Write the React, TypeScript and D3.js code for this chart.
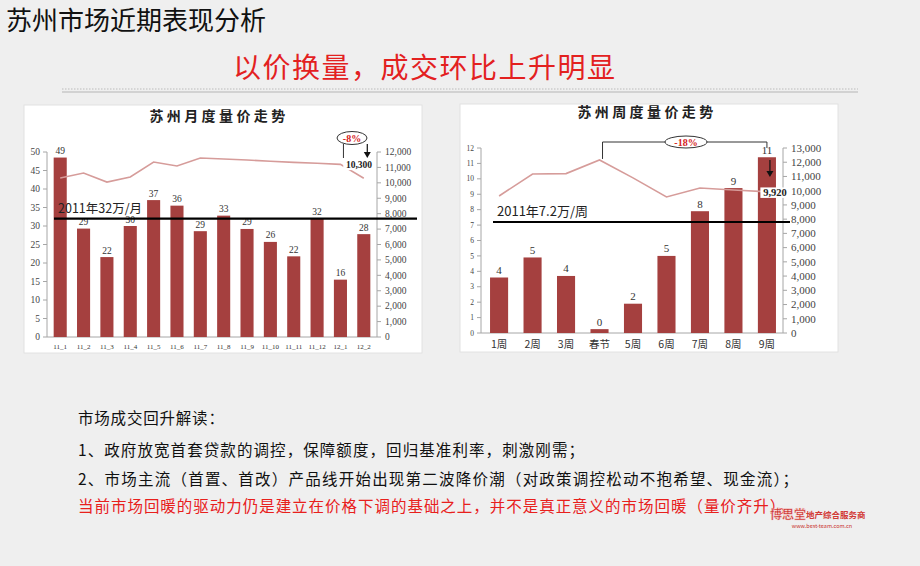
import * as d3 from "d3";

// ── data ─────────────────────────────────────────────────────────────
const monthCats = ["11_1", "11_2", "11_3", "11_4", "11_5", "11_6", "11_7", "11_8", "11_9", "11_10", "11_11", "11_12", "12_1", "12_2"];
const monthVolume = [48.5, 29.3, 21.6, 30, 37, 35.5, 28.6, 32.8, 29.2, 25.7, 21.8, 32, 15.5, 27.8];
const monthPrice = [10310, 10640, 10050, 10380, 11350, 11090, 11610, 11550, 11480, 11400, 11330, 11270, 11200, 10300];
const monthAvg = 32;
const monthVolTicks = [0, 5, 10, 15, 20, 25, 30, 35, 40, 45, 50];
const monthPriceTicks = [0, 1000, 2000, 3000, 4000, 5000, 6000, 7000, 8000, 9000, 10000, 11000, 12000];

const weekCats = ["1周", "2周", "3周", "春节", "5周", "6周", "7周", "8周", "9周"];
const weekVolume = [3.6, 4.9, 3.7, 0.25, 1.9, 5.0, 7.9, 9.4, 11.4];
const weekPrice = [9630, 11170, 11200, 12160, 10900, 9560, 10190, 10050, 9920];
const weekAvg = 7.2;
const weekVolTicks = [0, 1, 2, 3, 4, 5, 6, 7, 8, 9, 10, 11, 12];
const weekPriceTicks = [0, 1000, 2000, 3000, 4000, 5000, 6000, 7000, 8000, 9000, 10000, 11000, 12000, 13000];

const notes = [
  "市场成交回升解读：",
  "1、政府放宽首套贷款的调控，保障额度，回归基准利率，刺激刚需；",
  "2、市场主流（首置、首改）产品线开始出现第二波降价潮（对政策调控松动不抱希望、现金流）；",
];
const redNote = "当前市场回暖的驱动力仍是建立在价格下调的基础之上，并不是真正意义的市场回暖（量价齐升）。";

const BAR = "#a5403f";
const LINE = "#d69c9a";
const AXIS = "#a6a6a6";
const SERIF = "'Liberation Serif', 'DejaVu Serif', serif";
const CJK = "'Noto Sans CJK SC', 'Noto Sans', sans-serif";

interface ChartCfg {
  panel: { x: number; y: number; w: number; h: number };
  title: string;
  titleX: number;
  titleY: number;
  cats: string[];
  vol: number[];
  price: number[];
  avg: number;
  avgLabel: string;
  volTicks: number[];
  priceTicks: number[];
  xRange: [number, number];
  padIn: number;
  padOut: number;
  yRange: [number, number];
  leftX: number;
  rightX: number;
  refX: [number, number];
  leftTickSize: number;
  rightTickSize: number;
  catSize: number;
  catY: number;
  valSize: number;
  refSize: number;
}

function useScales(c: ChartCfg) {
  const x = d3.scaleBand().domain(c.cats).range(c.xRange).paddingInner(c.padIn).paddingOuter(c.padOut);
  const yV = d3.scaleLinear().domain([0, c.volTicks[c.volTicks.length - 1]]).range(c.yRange);
  const yP = d3.scaleLinear().domain([0, c.priceTicks[c.priceTicks.length - 1]]).range(c.yRange);
  const cx = (k: string) => (x(k) ?? 0) + x.bandwidth() / 2;
  return { x, yV, yP, cx };
}

function ComboChart({ c, children }: { c: ChartCfg; children?: (s: ReturnType<typeof useScales>) => any }) {
  const s = useScales(c);
  const { x, yV, yP, cx } = s;
  const [y0, y1] = c.yRange;
  const line = d3
    .line<number>()
    .x((_, i) => cx(c.cats[i]))
    .y((d) => yP(d));
  const fmt = d3.format(",");

  return (
    <g>
      <rect x={c.panel.x} y={c.panel.y} width={c.panel.w} height={c.panel.h} fill="#fff" stroke="#e2e2e2" />
      <text x={c.titleX} y={c.titleY} textAnchor="middle" fontFamily={CJK} fontWeight={700} fontSize={14} letterSpacing={3.4} fill="#222">
        {c.title}
      </text>

      {/* axes */}
      <line x1={c.leftX} x2={c.leftX} y1={y0} y2={y1} stroke={AXIS} />
      <line x1={c.rightX} x2={c.rightX} y1={y0} y2={y1} stroke={AXIS} />
      <line x1={c.leftX} x2={c.rightX} y1={y0} y2={y0} stroke={AXIS} />
      {c.volTicks.map((t) => (
        <g key={"l" + t}>
          <line x1={c.leftX - 4} x2={c.leftX} y1={yV(t)} y2={yV(t)} stroke={AXIS} />
          <text x={c.leftX - 7} y={yV(t)} dy="0.35em" textAnchor="end" fontFamily={SERIF} fontSize={c.leftTickSize} fill="#444">
            {t}
          </text>
        </g>
      ))}
      {c.priceTicks.map((t) => (
        <g key={"r" + t}>
          <line x1={c.rightX} x2={c.rightX + 4} y1={yP(t)} y2={yP(t)} stroke={AXIS} />
          <text x={c.rightX + 8} y={yP(t)} dy="0.35em" fontFamily={SERIF} fontSize={c.rightTickSize} fill="#444">
            {fmt(t)}
          </text>
        </g>
      ))}

      {/* bars */}
      {c.vol.map((v, i) => (
        <g key={c.cats[i]}>
          <rect x={x(c.cats[i])} y={yV(v)} width={x.bandwidth()} height={y0 - yV(v)} fill={BAR} />
          <text x={cx(c.cats[i])} y={yV(v) - 3.5} textAnchor="middle" fontFamily={SERIF} fontSize={c.valSize} fill="#333">
            {Math.round(v)}
          </text>
          <text x={cx(c.cats[i])} y={c.catY} textAnchor="middle" fontFamily={c.catSize > 9 ? CJK : SERIF} fontSize={c.catSize} fill="#333">
            {c.cats[i]}
          </text>
        </g>
      ))}

      {/* price line */}
      <path d={line(c.price) ?? ""} fill="none" stroke={LINE} strokeWidth={1.6} />

      {/* average reference */}
      <line x1={c.refX[0]} x2={c.refX[1]} y1={yV(c.avg)} y2={yV(c.avg)} stroke="#000" strokeWidth={2.2} />
      <text x={c.refX[0] + 4} y={yV(c.avg) - 6} fontFamily={CJK} fontSize={c.refSize} fill="#222">
        {c.avgLabel}
      </text>

      {children && children(s)}
    </g>
  );
}

const monthCfg: ChartCfg = {
  panel: { x: 24, y: 105, w: 398, h: 248 },
  title: "苏州月度量价走势",
  titleX: 219,
  titleY: 121,
  cats: monthCats,
  vol: monthVolume,
  price: monthPrice,
  avg: monthAvg,
  avgLabel: "2011年32万/月",
  volTicks: monthVolTicks,
  priceTicks: monthPriceTicks,
  xRange: [49, 375],
  padIn: 0.44,
  padOut: 0.2,
  yRange: [337, 152],
  leftX: 47,
  rightX: 377,
  refX: [54, 417],
  leftTickSize: 9.5,
  rightTickSize: 9.5,
  catSize: 7,
  catY: 349,
  valSize: 9.5,
  refSize: 12.5,
};

const weekCfg: ChartCfg = {
  panel: { x: 460, y: 104, w: 378, h: 248 },
  title: "苏州周度量价走势",
  titleX: 647,
  titleY: 117,
  cats: weekCats,
  vol: weekVolume,
  price: weekPrice,
  avg: weekAvg,
  avgLabel: "2011年7.2万/周",
  volTicks: weekVolTicks,
  priceTicks: weekPriceTicks,
  xRange: [482, 784],
  padIn: 0.46,
  padOut: 0.24,
  yRange: [333, 148],
  leftX: 481,
  rightX: 783,
  refX: [493, 790],
  leftTickSize: 7.5,
  rightTickSize: 11,
  catSize: 10.5,
  catY: 348,
  valSize: 11,
  refSize: 13,
};

function Arrow({ x, y1, y2 }: { x: number; y1: number; y2: number }) {
  return (
    <g>
      <line x1={x} x2={x} y1={y1} y2={y2 - 5} stroke="#111" strokeWidth={1.2} />
      <path d={`M${x - 3.5},${y2 - 6}L${x + 3.5},${y2 - 6}L${x},${y2}Z`} fill="#111" />
    </g>
  );
}

function BoxedLabel({ x, y, text, size }: { x: number; y: number; text: string; size: number }) {
  const w = text.length * size * 0.5 + 3;
  return (
    <g>
      <rect x={x - w / 2} y={y - size * 0.8} width={w} height={size} fill="#fff" />
      <text x={x} y={y} textAnchor="middle" fontFamily={SERIF} fontWeight={700} fontSize={size} fill="#222">
        {text}
      </text>
    </g>
  );
}

export default function App() {
  return (
    <div style={{ position: "fixed", left: 0, top: 0 }}>
      <svg width={920} height={566} style={{ display: "block", background: "#efefef" }}>
        <text x={6} y={30} fontFamily={CJK} fontSize={26} fill="#111">
          苏州市场近期表现分析
        </text>
        <text x={233} y={78} fontFamily={CJK} fontSize={28} fill="#e3211f" letterSpacing={1.5}>
          以价换量，成交环比上升明显
        </text>
        <line x1={62} x2={858} y1={89} y2={89} stroke="#bbb" strokeDasharray="1.5,1.5" />
        <line x1={62} x2={858} y1={92} y2={92} stroke="#c8c8c8" strokeWidth={1.5} />

        <ComboChart c={monthCfg}>
          {({ cx, yP }) => {
            const a = cx("12_1") + 3;
            const b = cx("12_2") + 3.5;
            return (
              <g>
                <line x1={a} x2={a} y1={144} y2={158} stroke="#333" />
                <Arrow x={b} y1={144} y2={158} />
                <ellipse cx={352} cy={138} rx={15} ry={6.5} fill="#fff" stroke="#333" />
                <text x={352} y={138} dy="0.35em" textAnchor="middle" fontFamily={SERIF} fontWeight={700} fontSize={10} fill="#d42020">
                  -8%
                </text>
                <BoxedLabel x={359} y={yP(monthPrice[monthPrice.length - 1]) - 10} text="10,300" size={9.5} />
              </g>
            );
          }}
        </ComboChart>

        <ComboChart c={weekCfg}>
          {({ cx, yP }) => {
            const a = cx("春节") + 3;
            const b = cx("9周");
            const peak = yP(weekPrice[3]);
            return (
              <g>
                <path d={`M${a},${peak - 1}V142H${b}V148`} fill="none" stroke="#333" />
                <ellipse cx={686} cy={142} rx={21} ry={6} fill="#fff" stroke="#333" />
                <text x={686} y={142} dy="0.35em" textAnchor="middle" fontFamily={SERIF} fontWeight={700} fontSize={10} fill="#d42020">
                  -18%
                </text>
                <Arrow x={b + 3} y1={160} y2={177} />
                <BoxedLabel x={775} y={yP(weekPrice[weekPrice.length - 1]) + 4} text="9,920" size={10.5} />
              </g>
            );
          }}
        </ComboChart>

        {notes.map((t, i) => (
          <text
            key={i}
            x={78}
            y={[424, 456, 485][i]}
            fontFamily={CJK}
            fontSize={15.5}
            fill="#111"
            {...(i === 0 ? { letterSpacing: 0.8 } : { textLength: [0, 506, 720][i], lengthAdjust: "spacing" })}
          >
            {t}
          </text>
        ))}
        <text x={78} y={512} fontFamily={CJK} fontSize={15.5} fill="#e8201c" textLength={716} lengthAdjust="spacing">
          {redNote}
        </text>

        {/* logo */}
        <text x={770} y={519} fontFamily={CJK} fontWeight={700} fontSize={12} fill="#c9302c" stroke="#f6d0cf" strokeWidth={0.4}>
          博思堂
        </text>
        <text x={806} y={518} fontFamily={CJK} fontWeight={700} fontSize={8.5} fill="#d23a36">
          地产综合服务商
        </text>
        <text x={822} y={528} textAnchor="middle" fontFamily={CJK} fontSize={5.5} fill="#c9302c">
          www.best-team.com.cn
        </text>
      </svg>
    </div>
  );
}
